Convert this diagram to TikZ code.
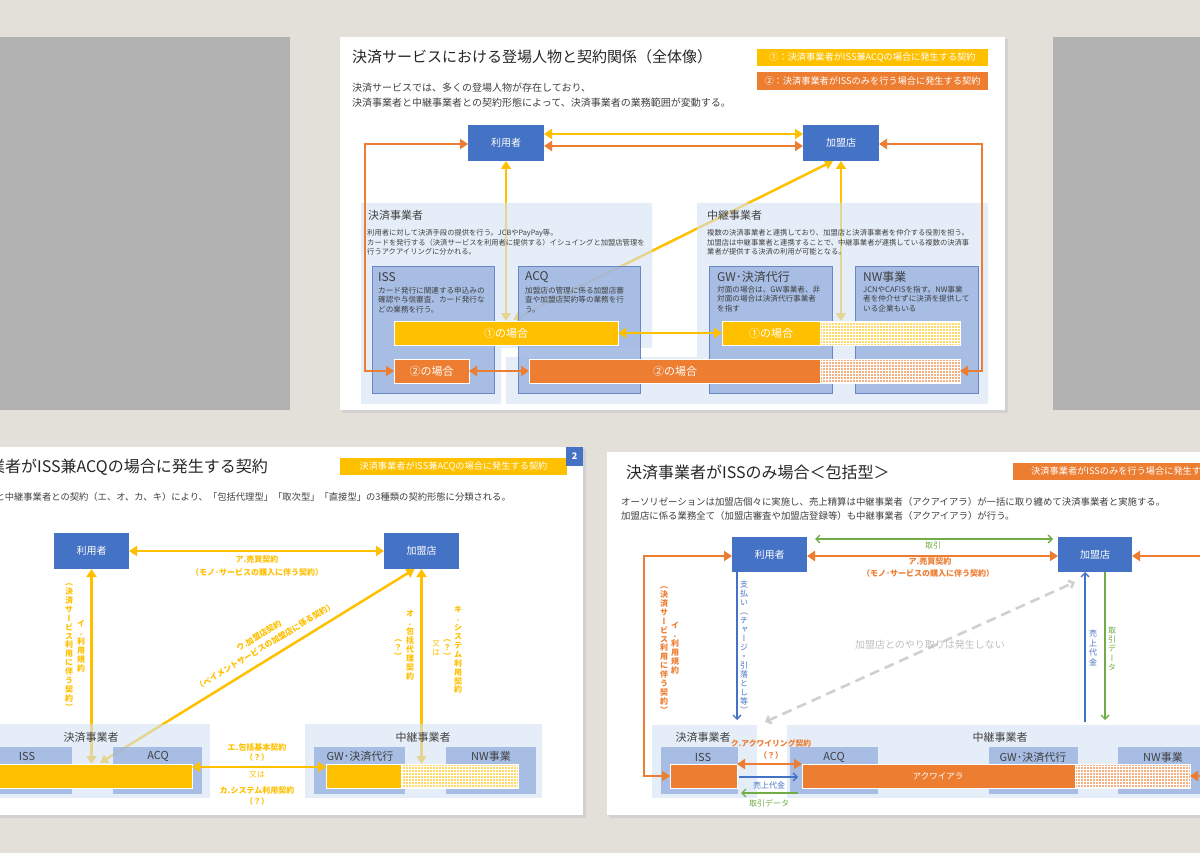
\documentclass[tikz,border=0pt]{standalone}
\usepackage{fontspec}
\setmainfont{Noto Sans CJK JP}
\newfontfamily\vjp[RawFeature=+vert]{Noto Sans CJK JP}
\usetikzlibrary{arrows.meta,patterns}
\definecolor{bgc}{HTML}{E3E0DA}
\definecolor{grc}{HTML}{B2B2B2}
\definecolor{cY}{HTML}{FFC000}
\definecolor{cYl}{HTML}{FFD966}
\definecolor{cO}{HTML}{ED7D31}
\definecolor{cOl}{HTML}{F4B183}
\definecolor{cB}{HTML}{4472C4}
\definecolor{cG}{HTML}{70AD47}
\definecolor{cGd}{HTML}{D0D0D0}
\definecolor{cGt}{HTML}{BFBFBF}
\definecolor{cPan}{HTML}{D5E4F4}
\definecolor{cBx}{HTML}{98B1DF}
\definecolor{cBxd}{HTML}{6A86C6}
\definecolor{tx}{HTML}{404040}
\definecolor{ttl}{HTML}{262626}
\newcommand\fs[2]{\fontsize{#1}{#2}\selectfont}
\ExplSyntaxOn
\NewDocumentCommand \vt { O{9pt} m }
  {
    \vbox:n
      {
        \skip_set:Nn \baselineskip {#1}
        \dim_set:Nn \lineskiplimit { -\c_max_dim }
        \tl_map_inline:nn {#2} { \hbox_to_wd:nn {1em} { \hss ##1 \hss } }
      }
  }
\ExplSyntaxOff
\pgfdeclarelayer{L0}
\pgfdeclarelayer{L1}
\pgfdeclarelayer{L2}
\pgfsetlayers{L0,L1,L2,main}
\tikzset{
 Tri/.tip={Triangle[length=8pt,width=10pt]},
 Brb/.tip={Straight Barb[length=4pt,width=8pt]},
 ent/.style={fill=cB,text=white,inner sep=0,outer sep=0,minimum width=76pt,minimum height=36pt,font=\fs{10}{12}},
 bar/.style={inner sep=0,outer sep=0,draw=white,line width=.8pt,text=white,font=\fs{11}{13}},
 lg/.style={inner sep=0,text=white,font=\fs{9.2}{11}},
 yl/.style={draw=cY,line width=2.5pt},
 ol/.style={draw=cO,line width=2.5pt},
 gl/.style={draw=cG,line width=1.3pt},
 bl/.style={draw=cB,line width=1.3pt},
 gd/.style={draw=cGd,line width=2.6pt,dash pattern=on 10pt off 6pt},
 tt/.style={inner sep=0,text=tx},
 yb/.style={inner sep=0,text=cY,font=\bfseries\fs{8}{9}},
 ob/.style={inner sep=0,text=cO,font=\bfseries\fs{8}{9}},
 vl/.style={inner sep=0,font=\vjp\bfseries\fs{8}{9}},
 vr/.style={inner sep=0,font=\vjp\fs{8}{9}},
 pan/.style={fill=cPan,fill opacity=.6},
 bx/.style={fill=cBx,fill opacity=.8},
 bxl/.style={inner sep=0,text=tx,font=\fs{11}{13}},
 dsc/.style={inner sep=0,text=tx,align=left,anchor=west,font=\fs{7.6}{9.3}},
 pat/.style={pattern=grid,pattern color=white,fill opacity=.12},
}
\begin{document}
\begin{tikzpicture}[x=1pt,y=-1pt]
\useasboundingbox (0,0) rectangle (1200,853);
\clip (0,0) rectangle (1200,853);
\begin{pgfonlayer}{L0}
\fill[bgc] (0,0) rectangle (1200,853);
\fill[grc] (0,37) rectangle (290,410);
\fill[grc] (1053,37) rectangle (1200,410);
\fill[black!18] (342,39) rectangle (1008,413);
\fill[white] (340,37) rectangle (1005,410);
\fill[black!18] (-10,449) rectangle (586,818);
\fill[white] (-10,447) rectangle (583,815);
\fill[black!18] (609,454) rectangle (1210,818);
\fill[white] (607,452) rectangle (1210,815);
\end{pgfonlayer}

%================ TOP SLIDE ================
\node[anchor=west,inner sep=0,font=\fs{15}{18},text=ttl] (t1) at (352,57) {決済サービスにおける登場人物と契約関係（全体像）};
\node[lg,fill=cY,minimum width=231pt,minimum height=17pt] (lg1) at (872.5,57.5) {①：決済事業者がISS兼ACQの場合に発生する契約};
\node[lg,fill=cO,minimum width=231pt,minimum height=18pt] (lg2) at (872.5,81) {②：決済事業者がISSのみを行う場合に発生する契約};
\node[tt,anchor=west,align=left,font=\fs{10}{15}] (st1) at (352,95.5) {決済サービスでは、多くの登場人物が存在しており、\\決済事業者と中継事業者との契約形態によって、決済事業者の業務範囲が変動する。};

\node[ent] (u1) at (506,143) {利用者};
\node[ent] (m1) at (841,143) {加盟店};

\node[bar,fill=cY,minimum width=224pt,minimum height=24pt] (y1b) at (506,333) {①の場合};
\node[bar,fill=cO,minimum width=75pt,minimum height=24pt] (o2s) at (431.5,371) {②の場合};
\node[bar,fill=cO,minimum width=431pt,minimum height=24pt] (o2b) at (744.5,371) {};
\fill[cOl] (820,359) rectangle (960,383);
\fill[pat] (820,359) rectangle (960,383);
\draw[white,line width=.8pt] (o2b.north west) rectangle (o2b.south east) (820,359) -- (820,383);
\node[inner sep=0,text=white,font=\fs{11}{13}] (o2t) at (675,371) {②の場合};
\node[bar,fill=cY,minimum width=238pt,minimum height=24pt] (y1r) at (841,333) {};
\fill[cYl] (820,321) rectangle (960,345);
\fill[pat] (820,321) rectangle (960,345);
\draw[white,line width=.8pt] (y1r.north west) rectangle (y1r.south east) (820,321) -- (820,345);
\node[inner sep=0,text=white,font=\fs{11}{13}] (y1t) at (771,333) {①の場合};

\coordinate (d1) at (513,320);
\begin{pgfonlayer}{L1}
\draw[yl,Tri-Tri] (u1.south) -- (u1.south |- y1b.north);
\draw[yl,Tri-Tri] (m1.south) -- (m1.south |- y1r.north);
\draw[yl,Tri-Tri] ([xshift=-8pt]m1.south) -- (d1);
\end{pgfonlayer}
\begin{pgfonlayer}{L2}
\fill[pan] (361,203) -- (652,203) -- (652,348) -- (501,348) -- (501,404) -- (361,404) -- cycle;
\fill[pan] (697,203) -- (988,203) -- (988,404) -- (506,404) -- (506,357) -- (697,357) -- cycle;
\filldraw[bx,draw=cBxd,line width=.6pt] (372,266) rectangle (494,393);
\filldraw[bx,draw=cBxd,line width=.6pt] (518,266) rectangle (640,393);
\filldraw[bx,draw=cBxd,line width=.6pt] (709,266) rectangle (832,393);
\filldraw[bx,draw=cBxd,line width=.6pt] (855,266) rectangle (978,393);
\end{pgfonlayer}

\draw[yl,Tri-Tri] ([yshift=9pt]u1.east) -- ([yshift=9pt]m1.west);
\draw[ol,Tri-Tri] ([yshift=-3pt]u1.east) -- ([yshift=-3pt]m1.west);
\draw[ol,Tri-Tri] ([yshift=-1pt]u1.west) -- ++(-103,0) |- (o2s.west);
\draw[ol,Tri-Tri] ([yshift=-1pt]m1.east) -- ++(103,0) |- (o2b.east);
\draw[yl,Tri-Tri] (y1b.east) -- (y1r.west);
\draw[ol,Tri-Tri] (o2s.east) -- (o2b.west);

\node[tt,anchor=west,font=\fs{11}{13}] at (368,215) {決済事業者};
\node[dsc,font=\fs{7.3}{9.7}] at (367,242.5) {利用者に対して決済手段の提供を行う。JCBやPayPay等。\\カードを発行する（決済サービスを利用者に提供する）イシュイングと加盟店管理を\\行うアクアイリングに分かれる。};
\node[tt,anchor=west,font=\fs{11}{13}] at (707,215) {中継事業者};
\node[dsc,font=\fs{7.3}{9.7}] at (707,242.5) {複数の決済事業者と連携しており、加盟店と決済事業者を仲介する役割を担う。\\加盟店は中継事業者と連携することで、中継事業者が連携している複数の決済事\\業者が提供する決済の利用が可能となる。};
\node[tt,anchor=west,font=\fs{12}{14}] at (378,277) {ISS};
\node[dsc] at (378,300) {カード発行に関連する申込みの\\確認や与信審査、カード発行な\\どの業務を行う。};
\node[tt,anchor=west,font=\fs{12}{14}] at (525,277) {ACQ};
\node[dsc] at (525,300) {加盟店の管理に係る加盟店審\\査や加盟店契約等の業務を行\\う。};
\node[tt,anchor=west,font=\fs{12}{14}] at (717,277) {GW･決済代行};
\node[dsc] at (717,299) {対面の場合は、GW事業者、非\\対面の場合は決済代行事業者\\を指す};
\node[tt,anchor=west,font=\fs{12}{14}] at (863,277) {NW事業};
\node[dsc] at (863,299) {JCNやCAFISを指す。NW事業\\者を仲介せずに決済を提供して\\いる企業もいる};

%================ BOTTOM LEFT SLIDE ================
\node[anchor=east,inner sep=0,font=\fs{16}{19},text=ttl] (t2) at (268,467) {決済事業者がISS兼ACQの場合に発生する契約};
\node[tt,anchor=east,font=\fs{9.3}{11}] (st2) at (511,497) {決済事業者と中継事業者との契約（エ、オ、カ、キ）により、「包括代理型」「取次型」「直接型」の3種類の契約形態に分類される。};
\node[lg,fill=cY,minimum width=227pt,minimum height=17pt] (lg3) at (453.5,466.5) {決済事業者がISS兼ACQの場合に発生する契約};
\node[fill=cB,text=white,inner sep=0,minimum width=17pt,minimum height=19pt,font=\bfseries\fs{9}{10}] (pg) at (574.5,456.5) {2};

\node[ent,minimum width=75pt] (u2) at (91.5,551) {利用者};
\node[ent,minimum width=75pt] (m2) at (421.5,551) {加盟店};
\node[bar,fill=cY,minimum width=197pt,minimum height=24pt] (y2a) at (93.5,776) {};
\node[bar,fill=cY,minimum width=192pt,minimum height=24pt] (y2b) at (422,776) {};
\fill[cYl] (401,764) rectangle (518,788);
\fill[pat] (401,764) rectangle (518,788);
\draw[white,line width=.8pt] (y2b.north west) rectangle (y2b.south east) (401,764) -- (401,788);

\coordinate (d2) at (100,763);
\begin{pgfonlayer}{L1}
\draw[yl,Tri-Tri] (u2.south) -- (u2.south |- y2a.north);
\draw[yl,Tri-Tri] (m2.south) -- (m2.south |- y2b.north);
\draw[yl,Tri-Tri] ([xshift=-7pt]m2.south) -- (d2);
\end{pgfonlayer}
\begin{pgfonlayer}{L2}
\fill[pan] (-5,724) rectangle (210,798);
\fill[pan] (305,724) rectangle (542,798);
\fill[bx] (-5,747) rectangle (72,794);
\fill[bx] (113,747) rectangle (202,794);
\fill[bx] (314,747) rectangle (405,794);
\fill[bx] (446,747) rectangle (536,794);
\end{pgfonlayer}

\draw[yl,Tri-Tri] (u2.east) -- (m2.west);
\draw[yl,Tri-Tri] ([yshift=9pt]y2a.east) -- ([yshift=9pt]y2b.west);

\node[yb] at (257,559) {ア.売買契約};
\node[yb] at (257,572) {（モノ･サービスの購入に伴う契約）};
\node[vl,text=cY] at (81,646) {\vt[9pt]{イ.利用規約}};
\node[vl,text=cY] at (69,647) {\vt[8.9pt]{（決済サービス利用に伴う契約）}};
\node[yb,rotate=31.2,align=center,font=\bfseries\fs{8}{12}] at (262,641) {ウ.加盟店契約\\（ペイメントサービスの加盟店に係る契約）};
\node[vl,text=cY] at (410,645) {\vt[9pt]{オ.包括代理契約}};
\node[vl,text=cY] at (398,650) {\vt[9pt]{（？）}};
\node[vl,text=cY] at (458,650) {\vt[8.9pt]{キ.システム利用契約}};
\node[vl,text=cY] at (447,650) {\vt[9pt]{（？）}};
\node[vr,text=cY] at (436,648) {\vt[9pt]{又は}};
\node[yb] at (257,747) {エ.包括基本契約};
\node[yb] at (257,757) {（？）};
\node[inner sep=0,text=cY,font=\fs{8}{9}] at (257,775) {又は};
\node[yb] at (257,790) {カ.システム利用契約};
\node[yb] at (257,801) {（？）};
\node[bxl] at (91,737) {決済事業者};
\node[bxl] at (423,737) {中継事業者};
\node[bxl] at (27,756) {ISS};
\node[bxl] at (158,756) {ACQ};
\node[bxl] at (360,756) {GW･決済代行};
\node[bxl] at (491,756) {NW事業};

%================ BOTTOM RIGHT SLIDE ================
\node[anchor=west,inner sep=0,font=\fs{16}{19},text=ttl] (t3) at (626,472) {決済事業者がISSのみ場合＜包括型＞};
\fill[cO] (1013,463) rectangle (1210,480);
\node[lg,anchor=west] (lg4) at (1031,471.5) {決済事業者がISSのみを行う場合に発生する契約};
\node[tt,anchor=west,align=left,font=\fs{9.4}{13.5}] (st3) at (621,509) {オーソリゼーションは加盟店個々に実施し、売上精算は中継事業者（アクアイアラ）が一括に取り纏めて決済事業者と実施する。\\加盟店に係る業務全て（加盟店審査や加盟店登録等）も中継事業者（アクアイアラ）が行う。};

\node[ent,minimum width=75pt,minimum height=35pt] (u3) at (769.5,554.5) {利用者};
\node[ent,minimum width=74pt,minimum height=35pt] (m3) at (1095,554.5) {加盟店};
\node[bar,fill=cO,minimum width=67pt,minimum height=24pt] (io) at (703.5,776) {};
\node[bar,fill=cO,minimum width=388pt,minimum height=24pt] (aq) at (996,776) {};
\fill[cOl] (1075,764) rectangle (1190,788);
\fill[pat] (1075,764) rectangle (1190,788);
\draw[white,line width=.8pt] (aq.north west) rectangle (aq.south east) (1075,764) -- (1075,788);
\node[inner sep=0,text=white,font=\fs{8.5}{10}] (aqt) at (938,776) {アクワイアラ};

\begin{pgfonlayer}{L2}
\fill[pan] (652,725) rectangle (757,798);
\fill[pan] (787,725) rectangle (1210,798);
\fill[bx] (661,747) rectangle (738,794);
\fill[bx] (790,747) rectangle (878,794);
\fill[bx] (989,747) rectangle (1078,794);
\fill[bx] (1118,747) rectangle (1210,794);
\end{pgfonlayer}

\coordinate (r3) at (1215,556);
\coordinate (r4) at (1215,776);
\coordinate (p1) at (737,720);
\coordinate (p2) at (1085,722);
\coordinate (p3) at (1105,720);
\coordinate (g1) at (765,722);
\draw[gl,Brb-Brb] ([xshift=8pt,yshift=15.5pt]u3.east) -- ([xshift=-5pt,yshift=15.5pt]m3.west);
\draw[ol,Tri-Tri] ([yshift=-1.5pt]u3.east) -- ([yshift=-1.5pt]m3.west);
\draw[ol,-Tri] (r3) -- ([yshift=-1.5pt]m3.east);
\draw[ol,Tri-Tri] ([yshift=-1.5pt]u3.west) -- ++(-88,0) |- (io.west);
\draw[bl,-Brb] (u3.south -| p1) -- (p1);
\draw[gd,Brb-Brb] (g1) -- ([xshift=-20pt,yshift=-10pt]m3.south);
\draw[bl,-Brb] (p2) -- (m3.south -| p2);
\draw[gl,-Brb] (m3.south -| p3) -- (p3);
\draw[ol,-Tri] (r4) -- (aq.east);
\draw[ol,Tri-Tri] ([yshift=12pt]io.east) -- ([yshift=12pt]aq.west);
\draw[bl,-Brb,shorten <=2pt,shorten >=4pt] ([yshift=-1pt]io.east) -- ([yshift=-1pt]aq.west);
\draw[gl,-Brb,shorten <=4pt,shorten >=4pt] ([yshift=-17pt]aq.west) -- ([yshift=-17pt]io.east);

\node[inner sep=0,text=cG,font=\fs{8}{9}] at (933,545) {取引};
\node[ob] at (930,561) {ア.売買契約};
\node[ob] at (928,573) {（モノ･サービスの購入に伴う契約）};
\node[vl,text=cO] at (675,648) {\vt[9pt]{イ.利用規約}};
\node[vl,text=cO] at (664,650) {\vt[8.9pt]{（決済サービス利用に伴う契約）}};
\node[vr,text=cB] at (744,647) {\vt[9pt]{支払い（チャージ・引落とし等）}};
\node[inner sep=0,text=cGt,font=\fs{10}{12}] at (930,645) {加盟店とのやり取りは発生しない};
\node[vr,text=cB] at (1093,648) {\vt[9.5pt]{売上代金}};
\node[vr,text=cG] at (1112,649) {\vt[9.2pt]{取引データ}};
\node[ob,font=\bfseries\fs{7.8}{9}] at (771,743) {ク.アクワイリング契約};
\node[ob] at (771,755) {（？）};
\node[inner sep=0,text=cB,font=\fs{8}{9}] at (769,785) {売上代金};
\node[inner sep=0,text=cG,font=\fs{8}{9}] at (769,803) {取引データ};
\node[bxl] at (703,737) {決済事業者};
\node[bxl] at (1000,737) {中継事業者};
\node[bxl] at (703,757) {ISS};
\node[bxl] at (834,757) {ACQ};
\node[bxl] at (1033,757) {GW･決済代行};
\node[bxl] at (1163,757) {NW事業};
\end{tikzpicture}
\end{document}
